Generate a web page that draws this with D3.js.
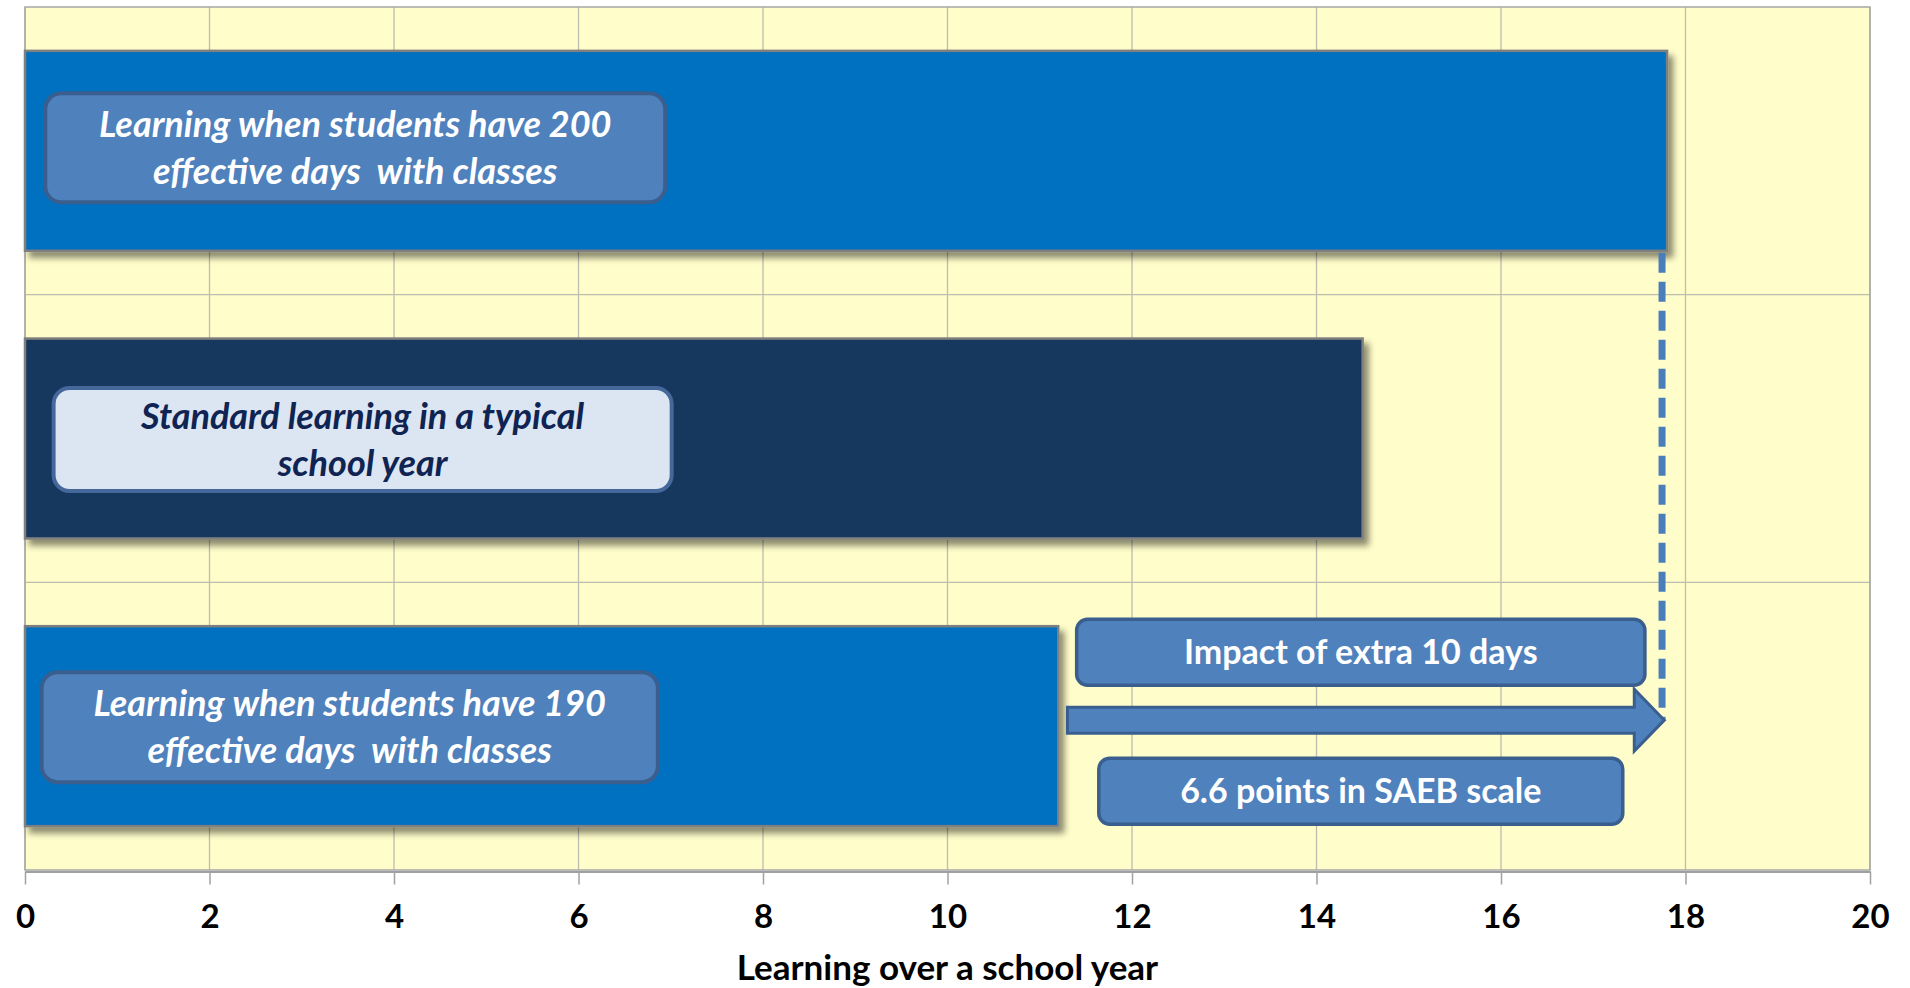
<!DOCTYPE html>
<html>
<head>
<meta charset="utf-8">
<script src="https://cdn.jsdelivr.net/npm/d3@7"></script>
<style>
    body { margin: 0; background: #fff; }
    svg { display: block; font-family: Lato, "Open Sans", sans-serif; }
</style>
</head>
<body>
<div id="chart"></div>
<script>
// Chart data
const categories = ["200 days", "Typical year", "190 days"];
const values = [17.8, 14.5, 11.2];
const barLabels = [
    ["Learning when students have 200", "effective days  with classes"],
    ["Standard learning in a typical", "school year"],
    ["Learning when students have 190", "effective days  with classes"]
];
const xTicks = [0, 2, 4, 6, 8, 10, 12, 14, 16, 18, 20];
const impactLabels = ["Impact of extra 10 days", "6.6 points in SAEB scale"];
const axisTitle = "Learning over a school year";

const width = 1910, height = 988;
const margin = { top: 7, right: 40, bottom: 118, left: 25 };
const innerW = width - margin.left - margin.right;
const innerH = height - margin.top - margin.bottom;

const barFill = ["#0070C0", "#17375E", "#0070C0"];

const svg = d3.select("#chart")
    .append("svg")
    .attr("width", width)
    .attr("height", height);

// drop shadow for the bars
const defs = svg.append("defs");
const shadow = defs.append("filter")
    .attr("id", "shadow")
    .attr("x", "-5%").attr("y", "-10%")
    .attr("width", "115%").attr("height", "130%");
shadow.append("feDropShadow")
    .attr("dx", 5).attr("dy", 6)
    .attr("stdDeviation", 3)
    .attr("flood-color", "#000")
    .attr("flood-opacity", 0.45);

const g = svg.append("g")
    .attr("transform", `translate(${margin.left},${margin.top})`);

const x = d3.scaleLinear().domain([0, 20]).range([0, innerW]);
const y = d3.scaleBand()
    .domain(categories)
    .range([0, innerH])
    .paddingInner(0.305)
    .paddingOuter(0.1525);

// plot background
g.append("rect")
    .attr("width", innerW)
    .attr("height", innerH)
    .attr("fill", "#FFFDC9");

// vertical gridlines
g.selectAll("line.vgrid")
    .data(xTicks)
    .enter()
    .append("line")
    .attr("class", "vgrid")
    .attr("x1", d => x(d)).attr("x2", d => x(d))
    .attr("y1", 0).attr("y2", innerH)
    .attr("stroke", "#BDBDB0")
    .attr("stroke-width", 1.3);

// horizontal gridlines between categories
const step = y.step();
g.selectAll("line.hgrid")
    .data(categories.slice(1))
    .enter()
    .append("line")
    .attr("class", "hgrid")
    .attr("x1", 0).attr("x2", innerW)
    .attr("y1", d => y(d) - step * y.paddingInner() / 2)
    .attr("y2", d => y(d) - step * y.paddingInner() / 2)
    .attr("stroke", "#BDBDB0")
    .attr("stroke-width", 1.3);

// plot border
g.append("rect")
    .attr("width", innerW)
    .attr("height", innerH)
    .attr("fill", "none")
    .attr("stroke", "#A6A6A6")
    .attr("stroke-width", 1.5);

// bars
g.selectAll("rect.bar")
    .data(values)
    .enter()
    .append("rect")
    .attr("class", "bar")
    .attr("x", 0)
    .attr("y", (d, i) => y(categories[i]))
    .attr("width", d => x(d))
    .attr("height", y.bandwidth())
    .attr("fill", (d, i) => barFill[i])
    .attr("stroke", "#7F7F7F")
    .attr("stroke-width", 2.5)
    .attr("filter", "url(#shadow)");

// x axis
const axis = g.append("g")
    .attr("transform", `translate(0,${innerH + 1.5})`)
    .call(d3.axisBottom(x).tickValues(xTicks).tickSize(13).tickPadding(20).tickSizeOuter(0));
axis.select(".domain").attr("stroke", "#A0A0A0").attr("stroke-width", 2);
axis.selectAll(".tick line").attr("stroke", "#A0A0A0").attr("stroke-width", 1.5);
axis.selectAll(".tick text")
    .attr("fill", "#000")
    .style("font-family", "Lato, sans-serif")
    .style("font-size", "33px")
    .style("font-weight", "bold");

g.append("text")
    .attr("x", innerW / 2)
    .attr("y", 973)
    .attr("text-anchor", "middle")
    .style("font-size", "35px")
    .style("font-weight", "bold")
    .attr("fill", "#000")
    .text(axisTitle);

// label boxes inside bars
const boxLayout = [
    { x0: 0.22, x1: 6.94, dy: -3, h: 109, fill: "#4F81BD", stroke: "#3A5F8F", text: "#FFFFFF" },
    { x0: 0.31, x1: 7.01, dy: 1, h: 103, fill: "#DCE6F2", stroke: "#45689A", text: "#0F2452" },
    { x0: 0.18, x1: 6.86, dy: 1, h: 110, fill: "#4F81BD", stroke: "#3A5F8F", text: "#FFFFFF" }
];

barLabels.forEach((lines, i) => {
    const b = boxLayout[i];
    const cy = y(categories[i]) + y.bandwidth() / 2 + b.dy;
    g.append("rect")
        .attr("x", x(b.x0))
        .attr("y", cy - b.h / 2)
        .attr("width", x(b.x1) - x(b.x0))
        .attr("height", b.h)
        .attr("rx", 16)
        .attr("fill", b.fill)
        .attr("stroke", b.stroke)
        .attr("stroke-width", 4);
    lines.forEach((line, j) => {
        g.append("text")
            .attr("x", (x(b.x0) + x(b.x1)) / 2)
            .attr("y", cy + (j === 0 ? -11 : 36))
            .attr("text-anchor", "middle")
            .attr("fill", b.text)
            .style("font-size", "36px")
            .style("font-weight", "bold")
            .style("font-style", "italic")
            .style("white-space", "pre")
            .text(line);
    });
});

// impact annotation: arrow from 190-day bar to 200-day level
const arrowStart = values[2] + 0.1;
const arrowEnd = values[0] - 0.03;
const arrowY = y(categories[2]) + y.bandwidth() / 2 - 6;
const shaftH = 13, headH = 31, headL = 30;
const ax0 = x(arrowStart), ax1 = x(arrowEnd);

// dashed drop line from the 200-day bar end
g.append("line")
    .attr("x1", x(values[0]) - 5).attr("x2", x(values[0]) - 5)
    .attr("y1", y(categories[0]) + y.bandwidth() + 2)
    .attr("y2", arrowY)
    .attr("stroke", "#4A7EBB")
    .attr("stroke-width", 7)
    .attr("stroke-dasharray", "20,9");

g.append("path")
    .attr("d", `M${ax0},${arrowY - shaftH} L${ax1 - headL},${arrowY - shaftH} L${ax1 - headL},${arrowY - headH}
        L${ax1},${arrowY} L${ax1 - headL},${arrowY + headH} L${ax1 - headL},${arrowY + shaftH} L${ax0},${arrowY + shaftH} Z`)
    .attr("fill", "#4F81BD")
    .attr("stroke", "#3A5F8F")
    .attr("stroke-width", 3)
    .attr("stroke-linejoin", "miter");

const impactLayout = [
    { x0: 11.40, x1: 17.56, cy: arrowY - 68, h: 66 },
    { x0: 11.64, x1: 17.32, cy: arrowY + 71, h: 66 }
];
impactLabels.forEach((label, i) => {
    const b = impactLayout[i];
    g.append("rect")
        .attr("x", x(b.x0))
        .attr("y", b.cy - b.h / 2)
        .attr("width", x(b.x1) - x(b.x0))
        .attr("height", b.h)
        .attr("rx", 11)
        .attr("fill", "#4F81BD")
        .attr("stroke", "#3A5F8F")
        .attr("stroke-width", 3.5);
    g.append("text")
        .attr("x", (x(b.x0) + x(b.x1)) / 2)
        .attr("y", b.cy + 12)
        .attr("text-anchor", "middle")
        .attr("fill", "#FFFFFF")
        .style("font-size", "34px")
        .style("font-weight", "bold")
        .text(label);
});
</script>
</body>
</html>
